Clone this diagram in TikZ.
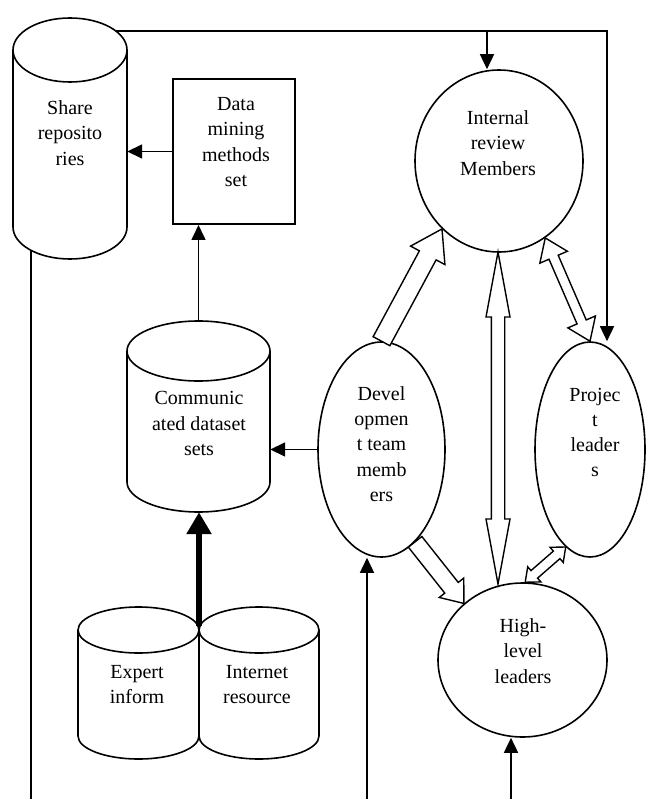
\documentclass[tikz,border=0pt]{standalone}
\usepackage{fontspec}
\setmainfont{Liberation Serif}
\usetikzlibrary{calc,arrows.meta,shapes.geometric}

\tikzset{
  ln/.style={line width=1.6pt},
  arr/.style={ln, -{Triangle[length=15pt,width=14pt]}},
  thickarr/.style={line width=6pt, -{Triangle[length=22pt,width=24pt]}},
  txt/.style={align=center, font=\fontsize{20}{25.3}\selectfont, inner sep=0pt},
  oval/.style={ellipse, draw, line width=1.6pt, inner sep=0pt},
  hbox/.style={rectangle, inner sep=0pt},
  blk/.style={draw, line width=1.4pt, fill=white, line join=miter},
}

% cylinder: cx, top centre y, bottom centre y, rx, ry
\newcommand\drawcyl[5]{%
  \draw[ln, fill=white] (#1-#4,#2) -- (#1-#4,#3) arc[start angle=180,end angle=0,x radius=#4,y radius=#5] -- (#1+#4,#2);
  \draw[ln] (#1,#2) ellipse [x radius=#4, y radius=#5];
}
% single block arrow: tail, tip, shaft half, head half, head length
\newcommand\sblk[5]{%
  \coordinate (hq) at ($(#2)!#5!(#1)$);
  \draw[blk] ($(#1)!#3!90:(#2)$) -- ($(hq)!#3!90:(#2)$) -- ($(hq)!#4!90:(#2)$) -- (#2)
    -- ($(hq)!#4!-90:(#2)$) -- ($(hq)!#3!-90:(#2)$) -- ($(#1)!#3!-90:(#2)$) -- cycle;
}
% double block arrow: tipA, tipB, shaft half, head half, head length
\newcommand\dblk[5]{%
  \coordinate (ha) at ($(#1)!#5!(#2)$);
  \coordinate (hb) at ($(#2)!#5!(#1)$);
  \draw[blk] (#1) -- ($(ha)!#4!90:(#2)$) -- ($(ha)!#3!90:(#2)$) -- ($(hb)!#3!90:(#2)$)
    -- ($(hb)!#4!90:(#2)$) -- (#2) -- ($(hb)!#4!-90:(#2)$) -- ($(hb)!#3!-90:(#2)$)
    -- ($(ha)!#3!-90:(#2)$) -- ($(ha)!#4!-90:(#2)$) -- cycle;
}

\begin{document}
\begin{tikzpicture}[x=1pt,y=-1pt]
\useasboundingbox (0,0) rectangle (645,799);

% ---- cylinders (drawn) and their anchor boxes
\drawcyl{70}{50}{227}{57}{32}
\node[hbox, minimum width=114pt, minimum height=241pt] (sr) at (70,138.5) {};
\drawcyl{198.5}{351}{482}{71.5}{30}
\node[hbox, minimum width=143pt, minimum height=191pt] (cd) at (198.5,416.5) {};
\drawcyl{138.5}{630}{736}{60.5}{23}
\node[hbox, minimum width=121pt, minimum height=152pt] (ex) at (138.5,683) {};
\drawcyl{259}{630}{736}{60}{23}
\node[hbox, minimum width=120pt, minimum height=152pt] (inr) at (259,683) {};

% ---- box and ellipses
\node[hbox, draw, line width=2pt, minimum width=122pt, minimum height=145pt] (dm) at (234,151.5) {};
\node[oval, minimum width=168pt, minimum height=182pt] (ir) at (499,161) {};
\node[oval, minimum width=127pt, minimum height=215pt] (dev) at (381.5,449.5) {};
\node[oval, minimum width=110pt, minimum height=215pt] (pl) at (590,449.5) {};
\node[oval, minimum width=169pt, minimum height=154pt] (hl) at (522.5,660) {};

% ---- texts
\node[txt] (srt) at (70,133) {Share\\reposito\\ries};
\node[txt] (dmt) at (236,142) {Data\\mining\\methods\\set};
\node[txt] (cdt) at (199,423.5) {Communic\\ated dataset\\sets};
\node[txt] (ext) at (137,684.5) {Expert\\inform};
\node[txt] (inrt) at (257,684.5) {Internet\\resource};
\node[txt] (irt) at (498,143) {Internal\\review\\Members};
\node[txt] (devt) at (381.5,444) {Devel\\opmen\\t team\\memb\\ers};
\node[txt] (plt) at (595,432.5) {Projec\\t\\leader\\s};
\node[txt] (hlt) at (523,651) {High-\\level\\leaders};

% ---- plain connectors
\coordinate (srtop) at (116,31);
\coordinate (j1) at (487,31);
\coordinate (j2) at (607,31);
\draw[arr] (srtop) -- (j2) -- (j2 |- pl.north);
\draw[arr] (j1) -- (j1 |- ir.north);
\draw[arr] (dm.west) -- (dm.west -| sr.east);
\draw[arr] (cd.north) -- (cd.north |- dm.south);
\draw[arr] (dev.west) -- (dev.west -| cd.east);
\coordinate (jn) at (199,626);
\draw[thickarr] (jn) -- (jn |- cd.south);
\coordinate (b1) at (31,250);
\coordinate (b1e) at (31,799);
\draw[ln] (b1) -- (b1e);
\coordinate (b2) at (367,799);
\draw[arr] (b2) -- (b2 |- dev.south);
\coordinate (b3) at (511,799);
\draw[arr] (b3) -- (b3 |- hl.south);

% ---- block arrows
\sblk{dev.north}{ir.230}{9.5pt}{19.5pt}{30pt}
\coordinate (vtop) at (498,252);
\coordinate (vbot) at (498,584);
\dblk{vtop}{vbot}{6.7pt}{12pt}{65pt}
\dblk{ir.301}{pl.north}{5pt}{15pt}{21pt}
\sblk{dev.290}{hl.136}{8.6pt}{15.6pt}{20pt}
\dblk{hl.88}{pl.256}{5pt}{10pt}{12pt}
\end{tikzpicture}
\end{document}
